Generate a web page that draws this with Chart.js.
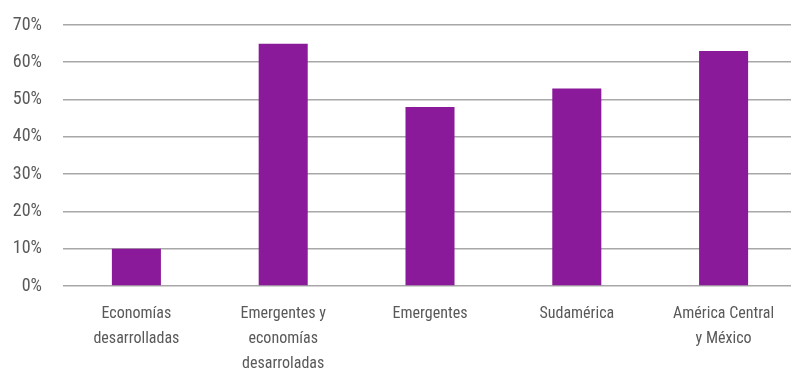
<!DOCTYPE html>
<html>
<head>
<meta charset="utf-8">
<script src="https://cdn.jsdelivr.net/npm/chart.js@4.4.1/dist/chart.umd.min.js"></script>
<style>
    html, body { margin: 0; padding: 0; background: #fff; overflow: hidden; }
    #wrap { width: 797px; height: 369px; position: relative; }
</style>
</head>
<body>
<div id="wrap"><canvas id="bar-chart"></canvas></div>
<script>
    // categories and values
    const categories = [
        ['Economías', 'desarrolladas'],
        ['Emergentes y', 'economías', 'desarroladas'],
        'Emergentes',
        'Sudamérica',
        ['América Central', 'y México']
    ];
    const values = [10, 65, 48, 53, 63];
    const yTicks = [0, 10, 20, 30, 40, 50, 60, 70];

    const textColor = '#595959';
    const fontFamily = '"Roboto Condensed", "DejaVu Sans Condensed", sans-serif';

    const barChartConfig = {
        type: 'bar',
        data: {
            labels: categories,
            datasets: [
                {
                    data: values,
                    backgroundColor: '#8a1a9a',
                    borderWidth: 0,
                    categoryPercentage: 1,
                    barPercentage: 0.334
                }
            ]
        },
        options: {
            responsive: true,
            maintainAspectRatio: false,
            animation: false,
            layout: {
                padding: { top: 25, right: 0, bottom: 0, left: 0 }
            },
            plugins: {
                legend: { display: false },
                tooltip: { enabled: false }
            },
            scales: {
                x: {
                    grid: { display: false },
                    border: { display: false },
                    ticks: {
                        color: textColor,
                        font: { family: fontFamily, size: 16, lineHeight: '25px' },
                        padding: 7,
                        maxRotation: 0,
                        autoSkip: false
                    },
                    afterFit: scale => {
                        scale.height = 83;
                        scale.paddingLeft = 0;
                        scale.paddingRight = 0;
                    }
                },
                y: {
                    min: 0,
                    max: 70,
                    afterBuildTicks: scale => {
                        scale.ticks = yTicks.map(v => ({ value: v }));
                    },
                    grid: {
                        color: '#a8a8a8',
                        lineWidth: 1.6,
                        drawTicks: false
                    },
                    border: { display: false },
                    ticks: {
                        color: textColor,
                        font: { family: fontFamily, size: 18 },
                        padding: 21,
                        callback: v => v + '%'
                    },
                    afterFit: scale => {
                        scale.width = 63;
                        scale.paddingTop = 0;
                        scale.paddingBottom = 0;
                    }
                }
            }
        }
    };

    new Chart(document.getElementById('bar-chart').getContext('2d'), barChartConfig);
</script>
</body>
</html>
